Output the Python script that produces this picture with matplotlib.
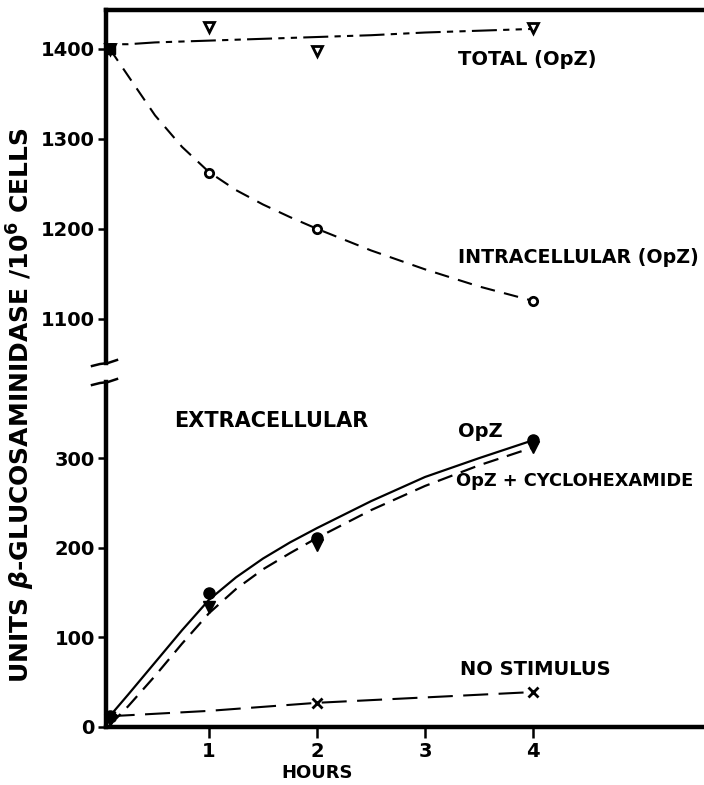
import numpy as np
import matplotlib.pyplot as plt

# sampling times (hours) and measured activity
hours = [0.08, 1, 2, 4]
total_opz = [1400, 1424, 1398, 1423]
intra_opz = [1400, 1262, 1200, 1120]
extra_opz = [12, 150, 211, 320]
extra_cyclo = [8, 134, 203, 312]
hours_ns = [0.08, 2, 4]
no_stim = [12, 27, 39]

# hand-drawn trend curves
curve_x = [0.08, 0.25, 0.5, 0.75, 1, 1.25, 1.5, 1.75, 2, 2.5, 3, 3.5, 4]
total_line = [1405, 1405, 1407, 1408, 1409, 1410, 1411, 1412, 1413, 1415,
              1418, 1420, 1422]
intra_curve = [1400, 1370, 1326, 1291, 1263, 1243, 1227, 1213, 1200, 1176,
               1155, 1136, 1120]
opz_curve = [12, 36, 72, 108, 142, 167, 188, 206, 222, 252, 279, 300, 320]
cyclo_curve = [2, 23, 57, 93, 127, 154, 176, 194, 211, 242, 269, 292, 312]
ns_line_x = [0.08, 1, 2, 4]
ns_line = [12, 18, 27, 39]

xticks = [1, 2, 3, 4]
upper_ticks = [1100, 1200, 1300, 1400]
lower_ticks = [0, 100, 200, 300]

plt.rcParams['font.family'] = ['DejaVu Sans']
plt.rcParams['font.weight'] = 'bold'

W, H = 704, 785
fig = plt.figure(figsize=(W / 100, H / 100), dpi=100)

left = 106 / W
right = 1.0
ax_top = fig.add_axes([left, 1 - 363 / H, right - left, (363 - 10) / H])
ax_bot = fig.add_axes([left, 1 - 727 / H, right - left, (727 - 382) / H])

xlim = (0.046, (W - 101) / 108)
for ax in (ax_top, ax_bot):
    ax.set_xlim(*xlim)
    ax.spines['right'].set_visible(False)
    for s in ('left', 'top', 'bottom'):
        ax.spines[s].set_linewidth(3.2)
    ax.tick_params(axis='both', direction='out', length=6, width=1.8,
                   labelsize=14, pad=2)

ax_top.set_ylim(1051, 1443)
ax_top.spines['bottom'].set_visible(False)
ax_top.set_xticks([])
ax_top.set_yticks(upper_ticks)

ax_bot.set_ylim(0, 385)
ax_bot.spines['top'].set_visible(False)
ax_bot.set_xticks(xticks)
ax_bot.set_yticks(lower_ticks)
ax_bot.tick_params(axis='x', length=8, pad=3)

# upper panel
ax_top.plot(curve_x, total_line, color='black', lw=1.5,
            dashes=(3, 3, 3, 3, 12, 3))
ax_top.plot(curve_x, intra_curve, color='black', lw=1.5, dashes=(7, 4.5))
ax_top.plot(hours, total_opz, linestyle='none', marker='v', ms=7,
            mfc='white', mec='black', mew=2, clip_on=False)
ax_top.plot(hours, intra_opz, linestyle='none', marker='o', ms=6,
            mfc='white', mec='black', mew=2, clip_on=False)
ax_top.plot([hours[0]], [total_opz[0]], linestyle='none', marker='s', ms=7,
            color='black', clip_on=False)

# lower panel
ax_bot.plot(curve_x, opz_curve, color='black', lw=1.6)
ax_bot.plot(curve_x, cyclo_curve, color='black', lw=1.6, dashes=(7, 4))
ax_bot.plot(ns_line_x, ns_line, color='black', lw=1.5, dashes=(12, 5))
ax_bot.plot(hours, extra_opz, linestyle='none', marker='o', ms=8,
            color='black', clip_on=False)
ax_bot.plot(hours, extra_cyclo, linestyle='none', marker='v', ms=8,
            color='black', clip_on=False)
ax_bot.plot(hours_ns, no_stim, linestyle='none', marker='x', ms=7,
            mew=2, color='black', clip_on=False)

# curve labels
lab = dict(fontweight='bold', va='center', ha='left')
ax_top.text(3.31, 1388, 'TOTAL (OpZ)', fontsize=14, **lab)
ax_top.text(3.31, 1168, 'INTRACELLULAR (OpZ)', fontsize=13.7, **lab)
ax_bot.text(0.68, 342, 'EXTRACELLULAR', fontsize=15, **lab)
ax_bot.text(3.31, 330, 'OpZ', fontsize=14, **lab)
ax_bot.text(3.29, 274, 'OpZ + CYCLOHEXAMIDE', fontsize=12.8, **lab)
ax_bot.text(3.32, 64, 'NO STIMULUS', fontsize=14, **lab)

# axis break marks
for y in (363, 382):
    xs = np.array([92, 100, 108, 117]) / W
    ys = 1 - (y + np.array([3, 1, 0, -3])) / H
    fig.add_artist(plt.Line2D(xs, ys, color='black', lw=1.8))

fig.text(21 / W, 1 - 405 / H,
         r'UNITS $\beta$-GLUCOSAMINIDASE /10$^6$ CELLS',
         rotation=90, ha='center', va='center', fontsize=18, fontweight='bold')
fig.text(317 / W, 1 - 773 / H, 'HOURS', ha='center', va='center',
         fontsize=13, fontweight='bold')

fig.savefig('out.png', dpi=100)
